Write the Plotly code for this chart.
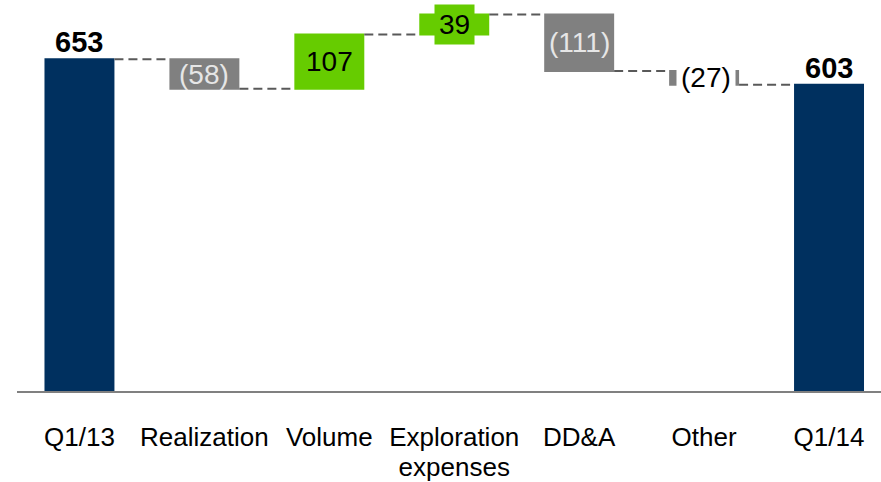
import plotly.graph_objects as go

# Operating result bridge, Q1/13 -> Q1/14
categories = ["Q1/13", "Realization", "Volume", "Exploration<br>expenses", "DD&A", "Other", "Q1/14"]
measures = ["absolute", "relative", "relative", "relative", "relative", "relative", "total"]
values = [653, -58, 107, 39, -111, -27, 603]
labels = ["653", "(58)", "107", "39", "(111)", "(27)", "603"]

NAVY = "#00305F"
GREEN = "#66CC00"
GREY = "#808080"
FONT = "Liberation Sans, Arial, sans-serif"

fig = go.Figure(
    go.Waterfall(
        x=categories,
        y=values,
        measure=measures,
        width=0.56,
        increasing=dict(marker=dict(color=GREEN)),
        decreasing=dict(marker=dict(color=GREY)),
        totals=dict(marker=dict(color=NAVY)),
        connector=dict(mode="between", line=dict(color="#595959", width=2, dash="9px,5px")),
        hoverinfo="skip",
        showlegend=False,
    )
)

# label styling per step: (background, text colour, padding, x shift)
label_style = {
    "Realization": (None, "#E6E6E6", 1, 0),
    "Volume": (None, "black", 1, 0),
    "Exploration<br>expenses": (GREEN, "black", 4, 0),
    "DD&A": (None, "#E6E6E6", 1, 0),
    "Other": ("white", "black", 4, 2),
}

annotations = []
level = 0
for cat, m, v, lab in zip(categories, measures, values, labels):
    if m == "absolute":
        start, end = 0, v
    elif m == "total":
        start, end = 0, level
    else:
        start, end = level, level + v
    level = end
    if m in ("absolute", "total"):
        annotations.append(dict(
            x=cat, y=end, text="<b>%s</b>" % lab, showarrow=False,
            yanchor="bottom", yshift=-1,
            font=dict(family=FONT, size=29, color="black"),
        ))
        continue
    bg, fc, pad, dx = label_style[cat]
    annotations.append(dict(
        x=cat, y=(start + end) / 2, text=lab, showarrow=False,
        bgcolor=bg if bg else "rgba(0,0,0,0)", borderpad=pad, xshift=dx,
        font=dict(family=FONT, size=28, color=fc),
    ))

# category captions: glyphs at 26px, line pitch of a 23px font
tick_text = ["<br>".join('<span style="font-size:26px">%s</span>' % line
                         for line in c.split("<br>")) for c in categories]

fig.update_layout(
    width=881, height=482,
    margin=dict(l=16.5, r=0, t=0, b=91),
    paper_bgcolor="white", plot_bgcolor="white",
    annotations=annotations,
    xaxis=dict(
        range=[-0.5, -0.5 + 864.5 / 125],
        showline=True, linecolor=GREY, linewidth=2,
        showgrid=False, ticks="",
        tickmode="array", tickvals=categories, ticktext=tick_text,
        tickfont=dict(family=FONT, size=23, color="black"),
        ticklabelstandoff=25,
        fixedrange=True,
    ),
    yaxis=dict(
        range=[0, 391 / 0.508],
        visible=False, showgrid=False, zeroline=False,
        fixedrange=True,
    ),
)

fig.write_html("out.html")
